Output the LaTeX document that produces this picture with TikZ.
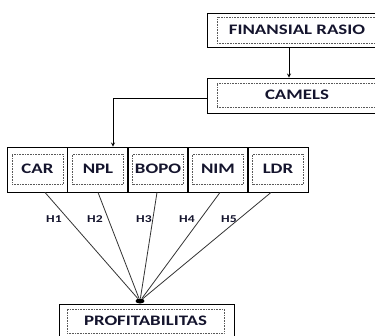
\documentclass[tikz,border=0pt]{standalone}
\usepackage{xcolor}
\usepackage{tikz}
\usepackage{fontspec}
\setmainfont{Carlito}
\newfontfamily\boxfont[FakeStretch=1.3]{Carlito}
\usetikzlibrary{shapes.geometric}
\definecolor{textnavy}{RGB}{20,20,45}

\begin{document}
\begin{tikzpicture}[x=1pt,y=-1pt]
        % Define styles
        \tikzset{
            outerbox/.style={rectangle, draw, line width=0.9pt, inner sep=0pt},
            innerbox/.style={rectangle, draw=gray!70!black, densely dotted, line width=0.6pt, inner sep=0pt, font=\boxfont\bfseries\fontsize{14.5}{16}\selectfont, text=textnavy},
            hlabel/.style={font=\boxfont\bfseries\fontsize{10.5}{12}\selectfont, text=textnavy},
            dot/.style={ellipse, fill, minimum width=9, minimum height=5, inner sep=0pt},
            arrow/.style={->,>=stealth, line width=0.8pt},
            link/.style={line width=0.8pt, draw=black!80}
        }
        \useasboundingbox (0,0) rectangle (375,335);

        % Top boxes
        \node[outerbox, minimum width=180, minimum height=34] (finansial_box) at (297,30) {};
        \node[innerbox, minimum width=170, minimum height=26] (finansial) at (302,30) {\hspace*{-10pt}FINANSIAL RASIO};
        \node[outerbox, minimum width=180, minimum height=35] (camels_box) at (297,95.5) {};
        \node[innerbox, minimum width=170, minimum height=24] (camels) at (302,95) {\hspace*{-10pt}CAMELS};

        % Ratio boxes
        \node[outerbox, minimum width=60.5, minimum height=45] (car_box) at (37.5,169.5) {};
        \node[innerbox, minimum width=51, minimum height=30] (car) at (37.5,169) {CAR};
        \node[outerbox, minimum width=60.5, minimum height=45] (npl_box) at (98,169.5) {};
        \node[innerbox, minimum width=51, minimum height=30] (npl) at (98,169) {NPL};
        \node[outerbox, minimum width=60.5, minimum height=45] (bopo_box) at (158,169.5) {};
        \node[innerbox, minimum width=51, minimum height=30] (bopo) at (158,169) {BOPO};
        \node[outerbox, minimum width=60.5, minimum height=45] (nim_box) at (218,169.5) {};
        \node[innerbox, minimum width=51, minimum height=30] (nim) at (218,169) {NIM};
        \node[outerbox, minimum width=60.5, minimum height=45] (ldr_box) at (278,169.5) {};
        \node[innerbox, minimum width=51, minimum height=30] (ldr) at (278,169) {LDR};

        % Bottom box
        \node[outerbox, minimum width=175, minimum height=36] (profit_box) at (146.5,322) {};
        \node[innerbox, minimum width=157, minimum height=24] (profit) at (145.5,321) {PROFITABILITAS};
        \node[dot] (meet) at (140,301) {};

        % Arrows
        \draw[arrow] ([xshift=-8]finansial_box.south) -- ([xshift=-8]camels_box.north);
        \draw[arrow] ([yshift=-2.5]camels_box.west) -| ([xshift=15]npl_box.north);
        \draw[link] ([xshift=7.5]car_box.south) -- (meet);
        \draw[link] (npl_box.south) -- (meet);
        \draw[link] ([xshift=-1]bopo_box.south) -- (meet);
        \draw[link] ([xshift=2]nim_box.south) -- (meet);
        \draw[link] ([xshift=-7]ldr_box.south) -- (meet);

        % Hypothesis labels
        \node[hlabel] (h1) at (54,219) {H1};
        \node[hlabel] (h2) at (95,219) {H2};
        \node[hlabel] (h3) at (144,219) {H3};
        \node[hlabel] (h4) at (187,219) {H4};
        \node[hlabel] (h5) at (229,219) {H5};
    \end{tikzpicture}
\end{document}
